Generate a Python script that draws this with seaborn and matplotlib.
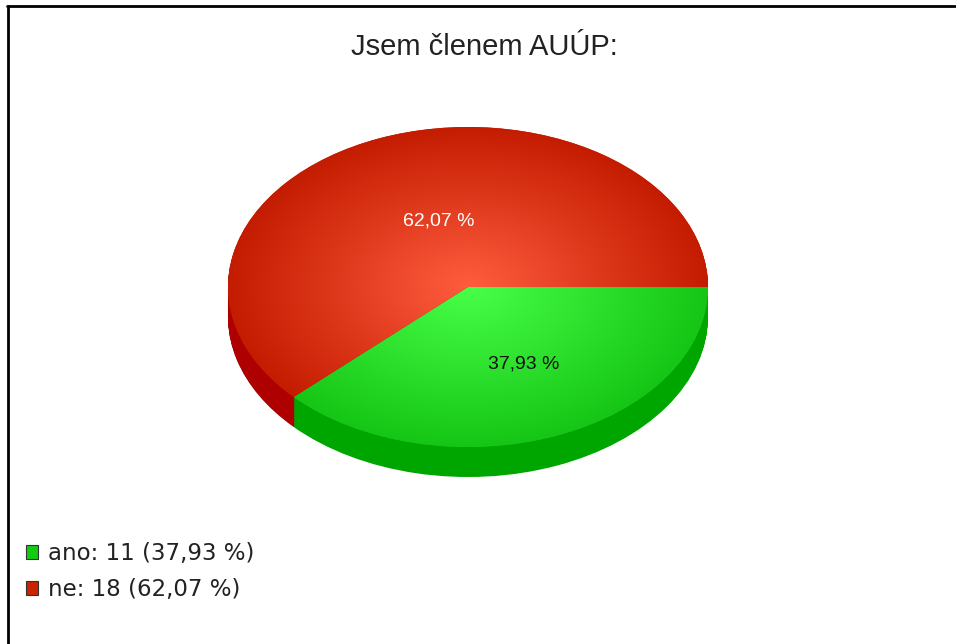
import numpy as np
import matplotlib
matplotlib.use("Agg")
import matplotlib.pyplot as plt
import seaborn as sns
from matplotlib.colors import LinearSegmentedColormap
from matplotlib.patches import Patch
from matplotlib.lines import Line2D

# data
labels = ["ano", "ne"]
counts = [11, 18]
title = "Jsem členem AUÚP:"

# colours (top gradient centre / edge, side, legend swatch)
top_inner = ["#48ff48", "#ff5c3e"]
top_outer = ["#16c616", "#c41c00"]
side_colors = ["#00a600", "#ae0000"]
legend_colors = ["#11cc11", "#cc2200"]

sns.set_theme(style="white")
plt.rcParams["font.family"] = ["Liberation Sans", "DejaVu Sans"]

W, H = 956, 644
fig = plt.figure(figsize=(W / 100, H / 100), dpi=100)
fig.patch.set_facecolor("white")

depth = 30 / 160
ax = fig.add_axes([228 / W, 1 - 477 / H, 480 / W, 350 / H])


def pct(p):
    return f"{p:.2f} %".replace(".", ",")


# side of the "3d" pie: stacked layers
for off in np.linspace(-depth, 0, 40)[:-1]:
    ax.pie(counts, colors=side_colors, startangle=0, counterclock=False,
           center=(0, off), radius=1, wedgeprops=dict(linewidth=0))

# top of the pie
wedges, texts, autotexts = ax.pie(
    counts, colors=top_outer, startangle=0, counterclock=False,
    autopct=pct, pctdistance=0.48, wedgeprops=dict(linewidth=0),
    textprops=dict(fontsize=14))

# radial gradient clipped to each wedge
yy, xx = np.mgrid[-1:1:400j, -1:1:400j]
rr = np.clip(np.hypot(xx, yy), 0, 1)
for w, c0, c1 in zip(wedges, top_inner, top_outer):
    cmap = LinearSegmentedColormap.from_list("g", [c0, c1])
    im = ax.imshow(rr, cmap=cmap, extent=[-1, 1, -1, 1], origin="lower",
                   aspect="auto", vmin=0, vmax=1, zorder=w.get_zorder() + 0.1)
    im.set_clip_path(w)

autotexts[0].set_color("#111111")
autotexts[1].set_color("white")
for t in autotexts:
    x, y = t.get_position()
    t.set_position((x + 0.055, y - 0.035))
    t.set_zorder(10)

ax.set_aspect("auto")
ax.set_xlim(-1, 1)
ax.set_ylim(-1 - depth, 1)
ax.axis("off")

# title
fig.text(484 / W, 1 - 47 / H, title, ha="center", va="center",
         fontsize=21, color="#222222")

# legend
total = sum(counts)
leg_labels = [f"{l}: {n} ({pct(100 * n / total)})" for l, n in zip(labels, counts)]
handles = [Patch(facecolor=c, edgecolor="#333333", linewidth=0.8) for c in legend_colors]
fig.legend(handles, leg_labels, loc="upper left",
           bbox_to_anchor=(26 / W, 1 - 542 / H), frameon=False,
           prop=dict(family="DejaVu Sans", size=16.5),
           handlelength=0.54, handleheight=0.54, handletextpad=0.42,
           labelspacing=0.57, borderpad=0, borderaxespad=0,
           labelcolor="#222222")

# frame lines (top and left)
fig.add_artist(Line2D([7 / W, 1], [1 - 6 / H, 1 - 6 / H], color="black",
                      lw=2, transform=fig.transFigure))
fig.add_artist(Line2D([8 / W, 8 / W], [0, 1 - 6 / H], color="black",
                      lw=2, transform=fig.transFigure))

fig.savefig("out.png", dpi=100)
